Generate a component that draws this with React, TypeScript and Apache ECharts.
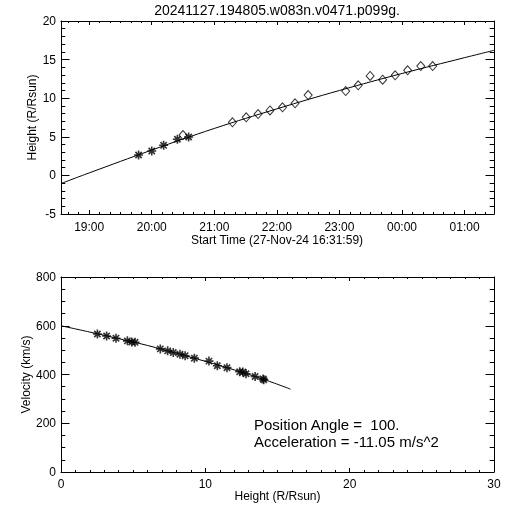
import React, { useEffect, useRef } from "react";
import * as echarts from "echarts";

const TITLE = "20241127.194805.w083n.v0471.p099g.";
const X1_NAME = "Start Time (27-Nov-24 16:31:59)";
const Y1_NAME = "Height (R/Rsun)";
const X2_NAME = "Height (R/Rsun)";
const Y2_NAME = "Velocity (km/s)";
const NOTE1 = "Position Angle =  100.";
const NOTE2 = "Acceleration = -11.05 m/s^2";

// top panel: hours since 27-Nov 00:00
const T_MIN = 18.55;
const T_MAX = 25.47;
const HOUR_TICK_FIRST = 19; // 19:00
const HOUR_TICK_LAST = 25; // 01:00
const MINOR_TICK_FIRST = 18 + 40 / 60; // 18:40
const MINOR_TICK_LAST = 25 + 20 / 60; // 01:20

const starTimes = [19.79, 20.0, 20.19, 20.41, 20.59];
const starHeights = [2.64, 3.16, 3.9, 4.68, 4.97];

const diamondTimes = [20.5, 21.29, 21.51, 21.7, 21.89, 22.09, 22.29, 22.5, 23.1, 23.3, 23.49, 23.69, 23.89, 24.09, 24.3, 24.49];
const diamondHeights = [5.23, 6.88, 7.53, 7.95, 8.42, 8.82, 9.34, 10.41, 10.93, 11.67, 12.88, 12.4, 12.97, 13.61, 14.17, 14.17];

const fitTimes = [18.55, 19, 20, 21, 22, 23, 24, 25, 25.47];
const fitHeights = [-1.05, 0.32, 3.28, 6.08, 8.62, 11.0, 13.2, 15.25, 16.2];

// bottom panel
const velHeights = [2.52, 3.16, 3.81, 4.6, 4.9, 5.13, 6.88, 7.39, 7.78, 8.24, 8.6, 9.24, 10.25, 10.83, 11.5, 12.38, 12.6, 12.82, 13.45, 14.0, 14.05];
const velValues = [566, 558, 549, 538, 533, 532, 505, 497, 490, 483, 477, 467, 455, 436, 428, 411, 410, 403, 392, 382, 378];

const velFitHeights = [0, 2, 4, 6, 8, 10, 12, 14, 15.9];
const velFitValues = [600, 574, 547, 519, 487, 454, 419, 381, 340];

const FONT = "'Liberation Sans', Arial, sans-serif";
const ASTERISK = "path://M10,0L10,20M0,10L20,10M3,3L17,17M3,17L17,3";

// layout
const G_LEFT = 61;
const G_WIDTH = 433;
const TOP1 = 21;
const H1 = 193;
const TOP2 = 277;
const H2 = 195;

const zip = (a: number[], b: number[]) => a.map((v, i) => [v, b[i]]);
const pad = (n: number) => (n < 10 ? "0" + n : "" + n);

export default function App() {
  const ref = useRef<HTMLDivElement>(null);
  useEffect(() => {
    if (!ref.current) return;
    const chart = echarts.init(ref.current, undefined, { renderer: "svg" });

    const pxPerHour = G_WIDTH / (T_MAX - T_MIN);
    const hx = (h: number) => G_LEFT + (h - T_MIN) * pxPerHour;

    const mk = (grid: number, position: string, min: number, max: number, interval: number, v: any) => ({
      type: "value",
      gridIndex: grid,
      position,
      min,
      max,
      interval,
      axisLine: { show: true, onZero: false, lineStyle: { color: "#000" } },
      splitLine: { show: false },
      axisTick: v.tickLen
        ? { show: true, inside: true, length: v.tickLen, lineStyle: { color: "#000", width: 1 } }
        : { show: false },
      minorTick: v.minorSplit
        ? { show: true, splitNumber: v.minorSplit, length: v.minorLen, lineStyle: { color: "#000", width: 1 } }
        : { show: false },
      axisLabel: v.label
        ? { show: true, color: "#000", fontSize: 12, fontFamily: FONT, margin: v.margin, ...(v.formatter ? { formatter: v.formatter } : {}) }
        : { show: false },
    });

    const hiddenAxis = (grid: number, min: number, max: number) => ({
      type: "value",
      gridIndex: grid,
      min,
      max,
      show: false,
    });

    const hourMin = HOUR_TICK_FIRST * 60;
    const hourMax = HOUR_TICK_LAST * 60;
    const minorMin = Math.round(MINOR_TICK_FIRST * 60);
    const minorMax = Math.round(MINOR_TICK_LAST * 60);
    const hourFmt = (v: number) => pad(Math.round(v / 60) % 24) + ":00";

    const textFont = `12px ${FONT}`;

    chart.setOption({
      animation: false,
      title: {
        text: TITLE,
        left: 277,
        top: 3,
        padding: 0,
        textAlign: "center",
        textStyle: { fontSize: 14, fontWeight: "normal", color: "#000", fontFamily: FONT },
      },
      grid: [
        { left: G_LEFT, top: TOP1, width: G_WIDTH, height: H1, outerBoundsMode: "none" },
        { left: hx(HOUR_TICK_FIRST), top: TOP1, width: hx(HOUR_TICK_LAST) - hx(HOUR_TICK_FIRST), height: H1, outerBoundsMode: "none" },
        { left: hx(MINOR_TICK_FIRST), top: TOP1, width: hx(MINOR_TICK_LAST) - hx(MINOR_TICK_FIRST), height: H1, outerBoundsMode: "none" },
        { left: G_LEFT, top: TOP2, width: G_WIDTH, height: H2, outerBoundsMode: "none" },
      ],
      xAxis: [
        mk(0, "bottom", T_MIN, T_MAX, undefined as any, {}),
        mk(0, "top", T_MIN, T_MAX, undefined as any, {}),
        mk(1, "bottom", hourMin, hourMax, 60, { tickLen: 4, label: true, margin: 7, formatter: hourFmt }),
        mk(1, "top", hourMin, hourMax, 60, { tickLen: 4 }),
        mk(2, "bottom", minorMin, minorMax, 10, { tickLen: 2 }),
        mk(2, "top", minorMin, minorMax, 10, { tickLen: 2 }),
        mk(3, "bottom", 0, 30, 10, { tickLen: 4, minorSplit: 10, minorLen: 2, label: true, margin: 6 }),
        mk(3, "top", 0, 30, 10, { tickLen: 4, minorSplit: 10, minorLen: 2 }),
      ],
      yAxis: [
        mk(0, "left", -5, 20, 5, { tickLen: 8.5, minorSplit: 5, minorLen: 4.3, label: true, margin: 5 }),
        mk(0, "right", -5, 20, 5, { tickLen: 8.5, minorSplit: 5, minorLen: 4.3 }),
        hiddenAxis(1, 1, 2),
        hiddenAxis(2, 1, 2),
        mk(3, "left", 0, 800, 200, { tickLen: 8.5, minorSplit: 4, minorLen: 4.3, label: true, margin: 5 }),
        mk(3, "right", 0, 800, 200, { tickLen: 8.5, minorSplit: 4, minorLen: 4.3 }),
      ],
      series: [
        {
          type: "line",
          xAxisIndex: 0,
          yAxisIndex: 0,
          data: zip(fitTimes, fitHeights),
          showSymbol: false,
          smooth: 0.4,
          lineStyle: { color: "#000", width: 1 },
          z: 2,
        },
        {
          type: "scatter",
          xAxisIndex: 0,
          yAxisIndex: 0,
          data: zip(starTimes, starHeights),
          symbol: ASTERISK,
          symbolSize: 9,
          itemStyle: { color: "rgba(0,0,0,0)", borderColor: "#000", borderWidth: 1.6 },
          z: 3,
        },
        {
          type: "scatter",
          xAxisIndex: 0,
          yAxisIndex: 0,
          data: zip(diamondTimes, diamondHeights),
          symbol: "diamond",
          symbolSize: [8, 9],
          itemStyle: { color: "rgba(0,0,0,0)", borderColor: "#000", borderWidth: 1 },
          z: 3,
        },
        { type: "line", xAxisIndex: 2, yAxisIndex: 2, data: [], showSymbol: false },
        { type: "line", xAxisIndex: 4, yAxisIndex: 3, data: [], showSymbol: false },
        {
          type: "line",
          xAxisIndex: 6,
          yAxisIndex: 4,
          data: zip(velFitHeights, velFitValues),
          showSymbol: false,
          smooth: 0.4,
          lineStyle: { color: "#000", width: 1 },
          z: 2,
        },
        {
          type: "scatter",
          xAxisIndex: 6,
          yAxisIndex: 4,
          data: zip(velHeights, velValues),
          symbol: ASTERISK,
          symbolSize: 9,
          itemStyle: { color: "rgba(0,0,0,0)", borderColor: "#000", borderWidth: 1.6 },
          z: 3,
        },
      ],
      graphic: [
        {
          type: "text",
          x: 277,
          y: 240,
          style: { text: X1_NAME, fill: "#000", font: textFont, align: "center", verticalAlign: "middle" },
        },
        {
          type: "text",
          x: 32,
          y: 117.5,
          rotation: Math.PI / 2,
          style: { text: Y1_NAME, fill: "#000", font: textFont, align: "center", verticalAlign: "middle" },
        },
        {
          type: "text",
          x: 277.5,
          y: 496,
          style: { text: X2_NAME, fill: "#000", font: textFont, align: "center", verticalAlign: "middle" },
        },
        {
          type: "text",
          x: 26,
          y: 374.5,
          rotation: Math.PI / 2,
          style: { text: Y2_NAME, fill: "#000", font: textFont, align: "center", verticalAlign: "middle" },
        },
        {
          type: "text",
          left: 254,
          top: 417,
          style: { text: NOTE1, fill: "#000", font: `15px ${FONT}` },
        },
        {
          type: "text",
          left: 254,
          top: 434,
          style: { text: NOTE2, fill: "#000", font: `15px ${FONT}` },
        },
      ],
    });
    return () => chart.dispose();
  }, []);
  return <div ref={ref} style={{ position: "fixed", left: 0, top: 0, width: 512, height: 512 }} />;
}
